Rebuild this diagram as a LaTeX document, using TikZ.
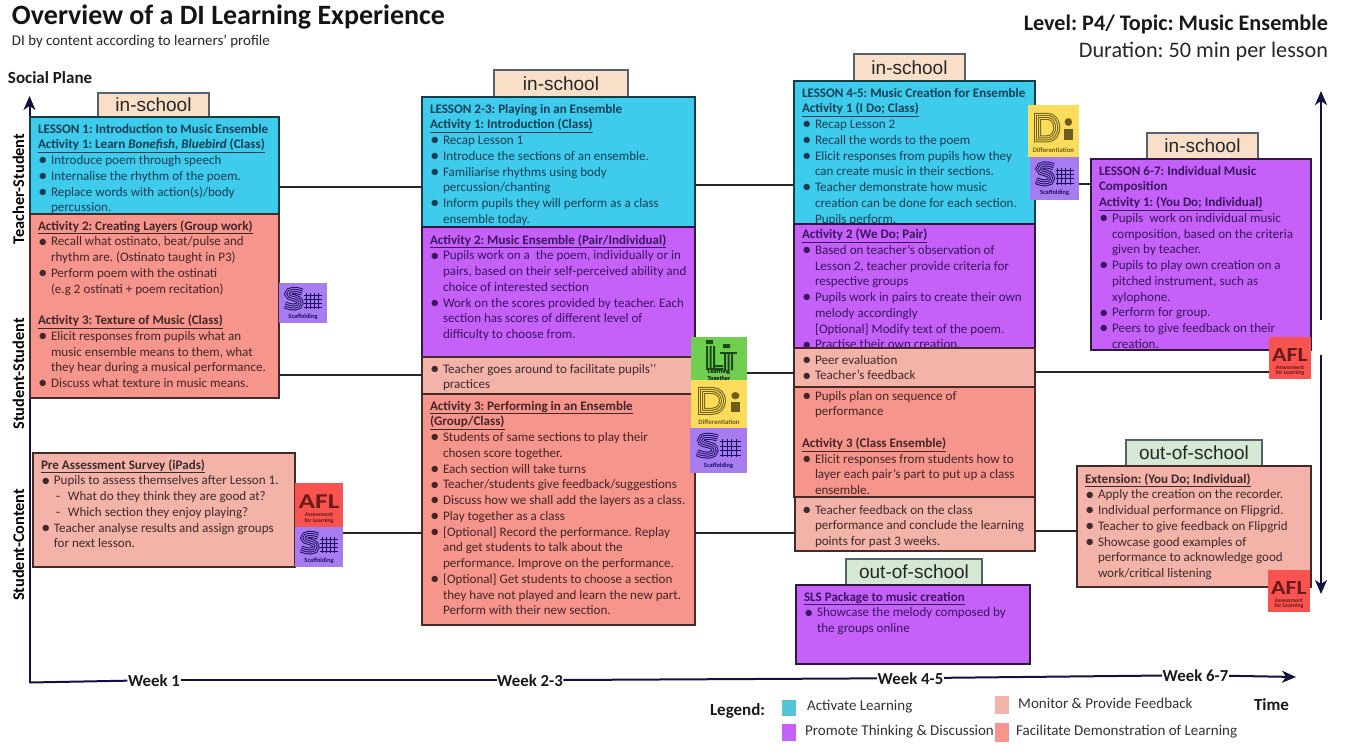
\documentclass[tikz,border=0pt]{standalone}
\usepackage{fontspec}
\setmainfont{Carlito}
\newfontfamily\tabfont{Liberation Sans}
\usetikzlibrary{arrows.meta,calc}
\frenchspacing
\definecolor{cBlue}{HTML}{3FCBEC}
\definecolor{cPurple}{HTML}{C561F8}
\definecolor{cRed}{HTML}{F5958B}
\definecolor{cLight}{HTML}{F4B3A8}
\definecolor{cTab}{HTML}{FADFC8}
\definecolor{cGreen}{HTML}{D5E8D4}
\definecolor{cS}{HTML}{A77CF0}
\definecolor{cSd}{HTML}{1E1060}
\definecolor{cD}{HTML}{FBDD5B}
\definecolor{cDd}{HTML}{6E5C1C}
\definecolor{cL}{HTML}{6FCF50}
\definecolor{cLd}{HTML}{1C4A1A}
\definecolor{cA}{HTML}{F8534F}
\definecolor{cAd}{HTML}{6A1A18}
\definecolor{cNavy}{HTML}{12123F}
\definecolor{cTabLine}{HTML}{56626E}
\definecolor{tBlue}{HTML}{0F3F55}
\definecolor{tPurple}{HTML}{3A1560}
\definecolor{tRed}{HTML}{452528}
\definecolor{tLight}{HTML}{3C2A2C}
\tikzset{
  boxb/.style={draw=#1,line width=1.5pt,inner sep=0pt,outer sep=0pt},
  blue box/.style={boxb=black!70!cBlue,fill=cBlue},
  purple box/.style={boxb=black!75!cPurple,fill=cPurple},
  red box/.style={boxb=black!72!cRed,fill=cRed},
  light box/.style={boxb=black!72!cRed,fill=cLight},
  tabb/.style={draw=cTabLine,line width=1.2pt,inner sep=0pt,outer sep=0pt},
  tablabel/.style={font=\tabfont\fontsize{19}{22}\selectfont,text=black!85,inner sep=0pt},
  icb/.style={inner sep=0pt,outer sep=0pt},
  bt/.style={font=\fontsize{13.05}{15.75}\selectfont,align=left,inner sep=0pt,outer sep=0pt},
  conn/.style={draw=black!85,line width=1.1pt},
  axis/.style={draw=cNavy,line width=2pt},
  axtip/.style={-{Stealth[length=14pt,width=12pt,inset=4pt]}},
  iccap/.style={font=\bfseries\fontsize{6.4}{6.6}\selectfont,inner sep=0pt,align=center},
  plain/.style={inner sep=0pt,outer sep=0pt},
  wk/.style={font=\bfseries\fontsize{16.8}{19}\selectfont,inner sep=0.5pt,text=black!90},
  side/.style={font=\bfseries\fontsize{16.3}{19}\selectfont,rotate=90,inner sep=0pt},
  legtxt/.style={font=\fontsize{15}{18}\selectfont,anchor=base west,inner sep=0pt,text=black!80}
}
\newcommand{\bx}[6]{\pgfmathsetmacro\bw{#5-#3}\pgfmathsetmacro\bh{#6-#4}\node[#2,anchor=north west,minimum width=\bw pt,minimum height=\bh pt] (#1) at (#3,#4) {};}
\newcommand{\tx}[6]{\node[bt,text=#5,anchor=north west] (#1) at ([xshift=#3pt,yshift=-#4pt]#2.north west) {\rule{0pt}{10pt}#6};}
\newcommand{\tabbox}[7]{\bx{#1}{tabb,fill=#2}{#3}{#4}{#5}{#6}\node[tablabel] (#1t) at (#1.center) {#7};}
\newcommand{\hd}[1]{\underline{\textbf{#1}}}
\newcommand{\bl}{\makebox[13pt][l]{\hspace{0.4pt}\smash{\raisebox{-1.3pt}{\fontsize{18}{15.75}\selectfont\textbullet}}}}
\newcommand{\ct}{\hspace*{13pt}}
\newcommand{\subb}{\makebox[27pt][l]{\hspace{15pt}-}}
\newcommand{\dostripes}[3]{\draw[line width=7pt,#1]#3;\draw[line width=5pt,#2]#3;\draw[line width=3pt,#1]#3;\draw[line width=1pt,#2]#3;}
\newcommand{\icS}[5]{\bx{#1}{icb,fill=cS}{#2}{#3}{#4}{#5}\pgfmathsetmacro\sx{(#4-#2)/48}\pgfmathsetmacro\sy{(#5-#3)/40}
 \begin{scope}[shift={(#2,#3)},xscale=\sx,yscale=\sy]
  \dostripes{cSd}{cS}{(23,9) .. controls (17,6.5) and (9,6.5) .. (9,11) .. controls (9,16) and (21,13) .. (21,20) .. controls (21,25) and (12,25) .. (6,22)}
  \draw[cSd,line width=.5pt] (25,12) -- (43,12) (25,16) -- (43,16) (25,20) -- (43,20) (25,24) -- (43,24) (27,10) -- (27,26) (31,10) -- (31,26) (35,10) -- (35,26) (39,10) -- (39,26);
  \node[iccap,text=cSd] (#1c) at (24,33.5) {Scaffolding};
 \end{scope}}
\newcommand{\icD}[5]{\bx{#1}{icb,fill=cD}{#2}{#3}{#4}{#5}\pgfmathsetmacro\sx{(#4-#2)/48}\pgfmathsetmacro\sy{(#5-#3)/46}
 \begin{scope}[shift={(#2,#3)},xscale=\sx,yscale=\sy]
  \begin{scope}[line join=miter]
  \draw[line width=7pt,cDd] (9,10) -- (18,10) .. controls (30,10) and (30,30) .. (18,30) -- (9,30) -- cycle;
  \draw[line width=5pt,cD] (9,10) -- (18,10) .. controls (30,10) and (30,30) .. (18,30) -- (9,30) -- cycle;
  \draw[line width=3pt,cDd] (9,10) -- (18,10) .. controls (30,10) and (30,30) .. (18,30) -- (9,30) -- cycle;
  \draw[line width=1pt,cD] (9,10) -- (18,10) .. controls (30,10) and (30,30) .. (18,30) -- (9,30) -- cycle;
  \end{scope}
  \fill[cDd] (38,15) circle[radius=3.5];
  \fill[cDd] (34,21) rectangle (42,31);
  \node[iccap,text=cDd,font=\bfseries\fontsize{6.8}{7}\selectfont] (#1c) at (24,40) {Differentiation};
 \end{scope}}
\newcommand{\icA}[5]{\bx{#1}{icb,fill=cA}{#2}{#3}{#4}{#5}\pgfmathsetmacro\sx{(#4-#2)/48}\pgfmathsetmacro\sy{(#5-#3)/44}
 \begin{scope}[shift={(#2,#3)},xscale=\sx,yscale=\sy]
  \node[plain,text=cAd,font=\bfseries\fontsize{21}{21}\selectfont,transform shape,xscale=1.3] (#1m) at (24,19) {AFL};
  \node[iccap,text=cAd,font=\bfseries\fontsize{5.8}{5.4}\selectfont] (#1c) at (24,35) {Assessment\\for Learning};
 \end{scope}}
\newcommand{\icL}[5]{\bx{#1}{icb,fill=cL}{#2}{#3}{#4}{#5}\pgfmathsetmacro\sx{(#4-#2)/56}\pgfmathsetmacro\sy{(#5-#3)/43}
 \begin{scope}[shift={(#2,#3)},xscale=\sx,yscale=\sy]
  \fill[cLd] (15,3) rectangle (22,7) (32,7) rectangle (39,11);
  \fill[cLd] (15,9) rectangle (17,31) (18.5,9) rectangle (20.5,31) (22,9) rectangle (24,31);
  \fill[cLd] (15,31) rectangle (32,33) (24,28) rectangle (32,30);
  \fill[cLd] (29,15) rectangle (46,17);
  \fill[cLd] (33,17) rectangle (35,33) (36.5,17) rectangle (38.5,33) (40,17) rectangle (42,33);
  \node[iccap,text=black,font=\bfseries\fontsize{6.2}{5.4}\selectfont] (#1c) at (28,38.5) {Learning\\Together};
 \end{scope}}
\begin{document}
\begin{tikzpicture}[x=1pt,y=-1pt]
\useasboundingbox[fill=white] (0,0) rectangle (1346,753);

% Title block
\node[plain,anchor=base west,font=\bfseries\fontsize{28}{32}\selectfont,text=black!92] (title) at (12,24) {Overview of a DI Learning Experience};
\node[plain,anchor=base west,font=\fontsize{14.9}{17}\selectfont,text=black!85] (sub) at (12,45) {DI by content according to learners’ profile};
\node[plain,anchor=base east,font=\bfseries\fontsize{22.2}{26}\selectfont,text=black!90] (level) at (1328,30) {Level: P4/ Topic: Music Ensemble};
\node[plain,anchor=base east,font=\fontsize{22.2}{26}\selectfont,text=black!85] (dur) at (1328,57) {Duration: 50 min per lesson};
\node[plain,anchor=base west,font=\bfseries\fontsize{17}{20}\selectfont,text=black!90] (plane) at (8,83) {Social Plane};

% Axes
\coordinate (origin) at (29.5,682.5);
\coordinate (ytop) at (29.5,96);
\coordinate (xend) at (1296,677);
\coordinate (rtop) at (1321,91);
\coordinate (rtopfoot) at (1321,320);
\coordinate (rbotfoot) at (1321,355);
\coordinate (rbot) at (1321,594);
\node[wk,anchor=base] (w1) at (154,686) {Week 1};
\node[wk,anchor=base] (w2) at (530,686) {Week 2-3};
\node[wk,anchor=base] (w3) at (910.5,684) {Week 4-5};
\node[wk,anchor=base] (w4) at (1195.5,681) {Week 6-7};
\draw[axis,axtip] (origin) -- (ytop);
\draw[axis] (origin) -- (w1);
\draw[axis] (w1) -- (w2);
\draw[axis] (w2) -- (w3);
\draw[axis] (w3) -- (w4);
\draw[axis,axtip] (w4) -- (xend);
\draw[axis,axtip] (rtopfoot) -- (rtop);
\draw[axis,axtip] (rbotfoot) -- (rbot);
\node[side] (s1) at (18.5,189) {Teacher-Student};
\node[side] (s2) at (18.5,374) {Student-Student};
\node[side] (s3) at (18.5,545) {Student-Content};

% Tabs
\tabbox{tab1}{cTab}{98}{93}{209}{117}{in-school}
\tabbox{tab2}{cTab}{494}{70}{628}{97}{in-school}
\tabbox{tab3}{cTab}{854}{54}{965}{81}{in-school}
\tabbox{tab4}{cTab}{1147}{133}{1258}{159}{in-school}
\tabbox{tab5}{cGreen}{1126}{440}{1262}{466}{out-of-school}
\tabbox{tab6}{cGreen}{846}{559}{982}{585}{out-of-school}

% Column 1
\bx{a1}{blue box}{30}{117}{279}{214}
\tx{a1t}{a1}{8}{6}{tBlue}{\textbf{LESSON 1: Introduction to Music Ensemble}\\
\hd{Activity 1: Learn \textit{Bonefish, Bluebird} (Class)}\\
\bl Introduce poem through speech\\
\bl Internalise the rhythm of the poem.\\
\bl Replace words with action(s)/body\\
\ct percussion.}
\bx{a2}{red box}{30}{214}{279}{398}
\tx{a2t}{a2}{8}{6}{tRed}{\hd{Activity 2: Creating Layers (Group work)}\\
\bl Recall what ostinato, beat/pulse and\\
\ct rhythm are. (Ostinato taught in P3)\\
\bl Perform poem with the ostinati\\
\ct (e.g 2 ostinati + poem recitation)\\
\ \\
\hd{Activity 3: Texture of Music (Class)}\\
\bl Elicit responses from pupils what an\\
\ct music ensemble means to them, what\\
\ct they hear during a musical performance.\\
\bl Discuss what texture in music means.}
\bx{a3}{light box}{33}{453}{295}{567}
\tx{a3t}{a3}{8}{6}{tLight}{\hd{Pre Assessment Survey (iPads)}\\
\bl Pupils to assess themselves after Lesson 1.\\
\subb What do they think they are good at?\\
\subb Which section they enjoy playing?\\
\bl Teacher analyse results and assign groups\\
\ct for next lesson.}

% Column 2
\bx{b1}{blue box}{422}{97}{695}{227}
\tx{b1t}{b1}{8}{6}{tBlue}{\textbf{LESSON 2-3: Playing in an Ensemble}\\
\hd{Activity 1: Introduction (Class)}\\
\bl Recap Lesson 1\\
\bl Introduce the sections of an ensemble.\\
\bl Familiarise rhythms using body\\
\ct percussion/chanting\\
\bl Inform pupils they will perform as a class\\
\ct ensemble today.}
\bx{b2}{purple box}{422}{227}{695}{357}
\tx{b2t}{b2}{8}{7}{tPurple}{\hd{Activity 2: Music Ensemble (Pair/Individual)}\\
\bl Pupils work on a\ \ the poem, individually or in\\
\ct pairs, based on their self-perceived ability and\\
\ct choice of interested section\\
\bl Work on the scores provided by teacher. Each\\
\ct section has scores of different level of\\
\ct difficulty to choose from.}
\bx{b3}{light box}{422}{357}{695}{394}
\tx{b3t}{b3}{8}{6}{tLight}{\bl Teacher goes around to facilitate pupils’’\\
\ct practices}
\bx{b4}{red box}{422}{394}{695}{625}
\tx{b4t}{b4}{8}{6}{tRed}{\hd{Activity 3: Performing in an Ensemble}\\
\hd{(Group/Class)}\\
\bl Students of same sections to play their\\
\ct chosen score together.\\
\bl Each section will take turns\\
\bl Teacher/students give feedback/suggestions\\
\bl Discuss how we shall add the layers as a class.\\
\bl Play together as a class\\
\bl [Optional] Record the performance. Replay\\
\ct and get students to talk about the\\
\ct performance. Improve on the performance.\\
\bl [Optional] Get students to choose a section\\
\ct they have not played and learn the new part.\\
\ct Perform with their new section.}

% Column 3
\bx{c1}{blue box}{794}{81}{1035}{224}
\tx{c1t}{c1}{8}{6}{tBlue}{\textbf{LESSON 4-5: Music Creation for Ensemble}\\
\hd{Activity 1 (I Do; Class)}\\
\bl Recap Lesson 2\\
\bl Recall the words to the poem\\
\bl Elicit responses from pupils how they\\
\ct can create music in their sections.\\
\bl Teacher demonstrate how music\\
\ct creation can be done for each section.\\
\ct Pupils perform.}
\bx{c2}{purple box}{794}{224}{1035}{348}
\tx{c2t}{c2}{8}{4.5}{tPurple}{\hd{Activity 2 (We Do; Pair)}\\
\bl Based on teacher’s observation of\\
\ct Lesson 2, teacher provide criteria for\\
\ct respective groups\\
\bl Pupils work in pairs to create their own\\
\ct melody accordingly\\
\ct [Optional] Modify text of the poem.\\
\bl Practise their own creation.}
\bx{c3}{light box}{794}{348}{1035}{387}
\tx{c3t}{c3}{8}{6}{tLight}{\bl Peer evaluation\\
\bl Teacher’s feedback}
\bx{c4}{red box}{794}{387}{1035}{497}
\tx{c4t}{c4}{8}{3}{tRed}{\bl Pupils plan on sequence of\\
\ct performance\\
\ \\
\hd{Activity 3 (Class Ensemble)}\\
\bl Elicit responses from students how to\\
\ct layer each pair’s part to put up a class\\
\ct ensemble.}
\bx{c5}{light box}{795}{497}{1035}{551}
\tx{c5t}{c5}{7}{7}{tLight}{\bl Teacher feedback on the class\\
\ct performance and conclude the learning\\
\ct points for past 3 weeks.}
\bx{c6}{purple box}{796}{585}{1030}{664}
\tx{c6t}{c6}{8}{6}{tPurple}{\hd{SLS Package to music creation}\\
\bl Showcase the melody composed by\\
\ct the groups online}

% Column 4
\bx{d1}{purple box}{1091}{159}{1311}{350}
\tx{d1t}{d1}{8}{6}{tPurple}{\textbf{LESSON 6-7: Individual Music}\\
\textbf{Composition}\\
\hd{Activity 1: (You Do; Individual)}\\
\bl Pupils\ \ work on individual music\\
\ct composition, based on the criteria\\
\ct given by teacher.\\
\bl Pupils to play own creation on a\\
\ct pitched instrument, such as\\
\ct xylophone.\\
\bl Perform for group.\\
\bl Peers to give feedback on their\\
\ct creation.}
\bx{d2}{light box}{1077}{466}{1311}{587}
\tx{d2t}{d2}{8}{7}{tLight}{\hd{Extension: (You Do; Individual)}\\
\bl Apply the creation on the recorder.\\
\bl Individual performance on Flipgrid.\\
\bl Teacher to give feedback on Flipgrid\\
\bl Showcase good examples of\\
\ct performance to acknowledge good\\
\ct work/critical listening}

% Icons
\icS{ia}{279}{283}{327}{323}
\icA{ib}{295}{483}{343}{527}
\icS{ic}{295}{527}{343}{567}
\icL{id}{691}{337}{747}{380}
\icD{ie}{691}{380}{747}{428}
\icS{if}{690}{428}{747}{473}
\icD{ig}{1028}{105}{1079}{157}
\icS{ih}{1030}{157}{1079}{200}
\icA{ii}{1269}{337}{1311}{379}
\icA{ij}{1268}{570}{1310}{612}

% Connectors
\coordinate (k1) at (0,187);
\coordinate (k2) at (0,375);
\coordinate (k3) at (0,533);
\coordinate (k4) at (0,185);
\coordinate (k5) at (0,373);
\coordinate (k6) at (0,184);
\coordinate (k7) at (0,372);
\coordinate (k8) at (0,531);
\draw[conn] (a1.east |- k1) -- (b1.west |- k1);
\draw[conn] (a2.east |- k2) -- (b3.west |- k2);
\draw[conn] (ic.east |- k3) -- (b4.west |- k3);
\draw[conn] (b1.east |- k4) -- (c1.west |- k4);
\draw[conn] (id.east |- k5) -- (c3.west |- k5);
\draw[conn] (b4.east |- k3) -- (c5.west |- k3);
\draw[conn] (ih.east |- k6) -- (d1.west |- k6);
\draw[conn] (c3.east |- k7) -- (ii.west |- k7);
\draw[conn] (c5.east |- k8) -- (d2.west |- k8);

% Legend
\node[plain,anchor=base west,font=\bfseries\fontsize{17}{20}\selectfont,text=black!90] (leg) at (710,715) {Legend:};
\node[plain,anchor=base west,font=\bfseries\fontsize{17}{20}\selectfont,text=black!90] (time) at (1254,710) {Time};
\bx{l1}{plain,fill=cBlue!70!teal!80}{782}{700}{796}{716}
\bx{l2}{plain,fill=cPurple}{782}{724}{796}{741}
\bx{l3}{plain,fill=cLight}{995}{696}{1009}{714}
\bx{l4}{plain,fill=cRed}{995}{723}{1009}{742}
\node[legtxt] (l1t) at (807,710) {Activate Learning};
\node[legtxt] (l2t) at (805,735) {Promote Thinking \& Discussion};
\node[legtxt] (l3t) at (1018,708) {Monitor \& Provide Feedback};
\node[legtxt] (l4t) at (1016,735) {Facilitate Demonstration of Learning};
\end{tikzpicture}
\end{document}
